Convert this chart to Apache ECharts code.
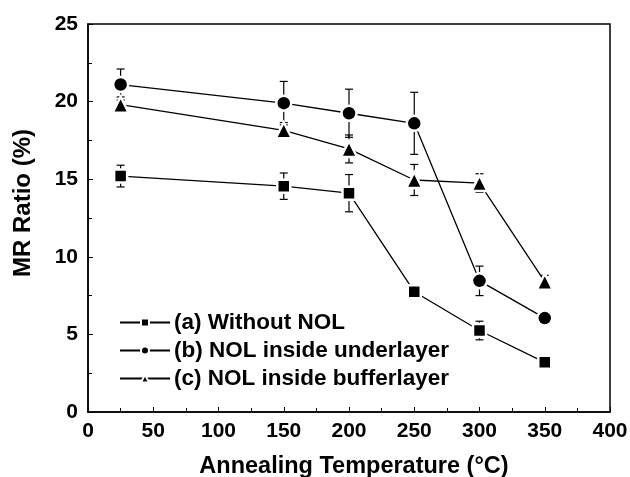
<!DOCTYPE html>
<html>
<head>
<meta charset="utf-8">
<script src="https://cdn.jsdelivr.net/npm/echarts@6/dist/echarts.min.js"></script>
<style>
  html, body { margin: 0; padding: 0; background: #fff; }
  #chart { width: 630px; height: 477px; }
</style>
</head>
<body>
<div id="chart"></div>
<script>
// annealing temperatures (°C)
var temps = [25, 150, 200, 250, 300, 350];
// MR ratio (%)
var seriesNames = ['(a) Without NOL', '(b) NOL inside underlayer', '(c) NOL inside bufferlayer'];
var withoutNol = [15.2, 14.55, 14.1, 7.75, 5.25, 3.2];
var underlayer = [21.1, 19.9, 19.25, 18.6, 8.45, 6.05];
var bufferlayer = [19.8, 18.15, 16.95, 14.95, 14.75, 8.4];
// error bar half heights
var errWithoutNol = [0.7, 0.85, 1.2, 0.3, 0.6, 0.15];
var errUnderlayer = [1.0, 1.4, 1.55, 2.0, 0.95, 0.1];
var errBufferlayer = [0.5, 0.5, 0.9, 1.0, 0.6, 0.4];
var xTicks = [0, 50, 100, 150, 200, 250, 300, 350, 400];
var yTicks = [0, 5, 10, 15, 20, 25];

var font = 'Liberation Sans, Arial, sans-serif';
var chart = echarts.init(document.getElementById('chart'));

function pairs(vals) {
    return temps.map(function (t, i) { return [t, vals[i]]; });
}
function errData(vals, errs) {
    return temps.map(function (t, i) { return [t, vals[i], errs[i]]; });
}
function renderErr(params, api) {
    var x = api.value(0), y = api.value(1), e = api.value(2);
    var top = api.coord([x, y + e]);
    var bot = api.coord([x, y - e]);
    var w = 4;
    var st = { stroke: '#000', lineWidth: 1.2 };
    return {
        type: 'group',
        children: [
            { type: 'line', shape: { x1: top[0], y1: top[1], x2: bot[0], y2: bot[1] }, style: st },
            { type: 'line', shape: { x1: top[0] - w, y1: top[1], x2: top[0] + w, y2: top[1] }, style: st },
            { type: 'line', shape: { x1: bot[0] - w, y1: bot[1], x2: bot[0] + w, y2: bot[1] }, style: st }
        ]
    };
}
function lineSeries(name, vals, symbol, size) {
    return {
        name: name,
        type: 'line',
        data: pairs(vals),
        symbol: symbol,
        symbolSize: size,
        showAllSymbol: true,
        z: 3,
        lineStyle: { color: '#000', width: 1.3 },
        itemStyle: { color: '#000', borderColor: '#fff', borderWidth: 2.5 },
        animation: false
    };
}
function errSeries(vals, errs) {
    return {
        type: 'custom',
        renderItem: renderErr,
        data: errData(vals, errs),
        z: 2,
        silent: true,
        animation: false
    };
}

chart.setOption({
    backgroundColor: '#fff',
    grid: {
        left: 88, right: 20, top: 24, bottom: 65,
        outerBoundsMode: 'none',
        containLabel: false,
        show: true, borderColor: '#000', borderWidth: 1.5, backgroundColor: 'transparent'
    },
    legend: {
        orient: 'vertical',
        left: 114,
        top: 306,
        itemWidth: 50,
        itemHeight: 10,
        itemGap: 5,
        data: seriesNames,
        textStyle: { fontFamily: font, fontSize: 22.5, fontWeight: 'bold', color: '#000', padding: [0, 0, 0, -1] }
    },
    xAxis: {
        type: 'value',
        min: 0, max: 400, interval: 50,
        name: 'Annealing Temperature (°C)',
        nameLocation: 'middle',
        nameGap: 43,
        nameTextStyle: { fontFamily: font, fontSize: 23.5, fontWeight: 'bold', color: '#000', padding: [0, 0, 0, 10] },
        axisLine: { lineStyle: { color: '#000', width: 1.5 } },
        axisTick: { inside: true, length: 5, lineStyle: { color: '#000' } },
        minorTick: { show: true, splitNumber: 2, length: 4, lineStyle: { color: '#000' } },
        splitLine: { show: false },
        axisLabel: {
            fontFamily: font, fontSize: 21, fontWeight: 'bold', color: '#000', margin: 9,
            formatter: function (v) { return xTicks.indexOf(v) >= 0 ? String(v) : ''; }
        }
    },
    yAxis: {
        type: 'value',
        min: 0, max: 25, interval: 5,
        name: 'MR Ratio (%)',
        nameLocation: 'middle',
        nameGap: 53,
        nameTextStyle: { fontFamily: font, fontSize: 24, fontWeight: 'bold', color: '#000', padding: [0, 0, 0, 30] },
        axisLine: { lineStyle: { color: '#000', width: 1.5 } },
        axisTick: { inside: true, length: 5, lineStyle: { color: '#000' } },
        minorTick: { show: true, splitNumber: 2, length: 4, lineStyle: { color: '#000' } },
        splitLine: { show: false },
        axisLabel: {
            fontFamily: font, fontSize: 21, fontWeight: 'bold', color: '#000', margin: 10,
            formatter: function (v) { return yTicks.indexOf(v) >= 0 ? String(v) : ''; }
        }
    },
    series: [
        errSeries(withoutNol, errWithoutNol),
        errSeries(underlayer, errUnderlayer),
        errSeries(bufferlayer, errBufferlayer),
        lineSeries(seriesNames[0], withoutNol, 'rect', 13),
        lineSeries(seriesNames[1], underlayer, 'circle', 15),
        lineSeries(seriesNames[2], bufferlayer, 'triangle', 16)
    ]
});
</script>
</body>
</html>
